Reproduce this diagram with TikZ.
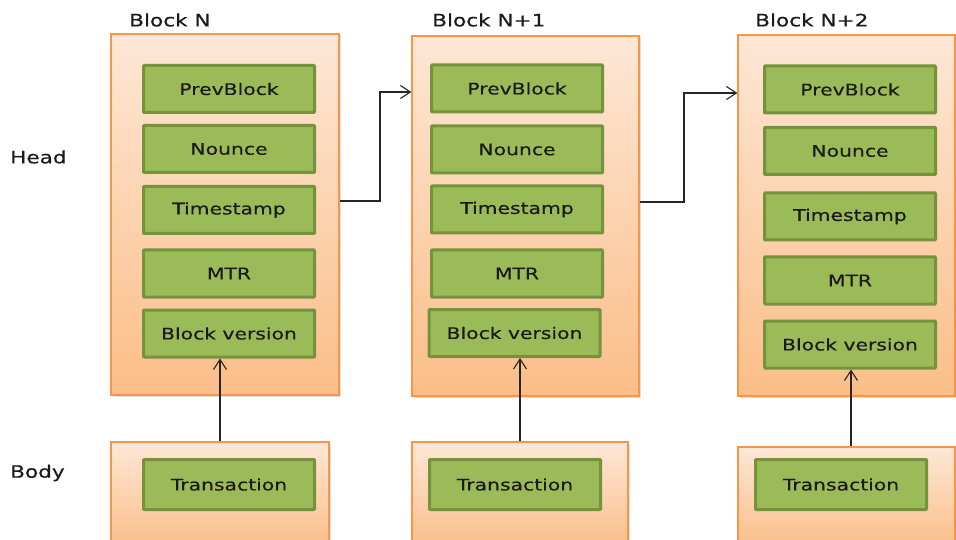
\documentclass[tikz,border=0pt]{standalone}
\usepackage{fontspec}
\setmainfont{DejaVu Sans}[FakeStretch=1.27,FakeBold=0.4]
\usetikzlibrary{arrows.meta,shadows}
\definecolor{orbord}{HTML}{F79646}
\definecolor{ortop}{HTML}{FDE7D6}
\definecolor{orbot}{HTML}{FBBE88}
\definecolor{grfill}{HTML}{9BBB59}
\definecolor{grbord}{HTML}{76923C}
\definecolor{txt}{HTML}{1A1A1A}
\begin{document}
\begin{tikzpicture}[x=1pt,y=-1pt,
  container/.style={draw=orbord,line width=1.2pt,top color=ortop,bottom color=orbot,
    drop shadow={shadow xshift=1.5pt,shadow yshift=-1.5pt,opacity=0.25},inner sep=0pt},
  field/.style={draw=grbord,fill=grfill,line width=3pt,minimum width=171pt,minimum height=47pt,
    inner sep=0pt,text=txt,font=\fontsize{16}{19}\selectfont,rounded corners=0.8pt},
  lbl/.style={anchor=west,text=txt,font=\fontsize{17}{20}\selectfont,inner sep=0pt},
  arr/.style={draw=black!85,line width=1.1pt,-{Straight Barb[length=10pt,width=13pt,line width=1.1pt]}}
]
\useasboundingbox (0,0) rectangle (956,540);
\clip (0,0) rectangle (956,540);
\fill[white] (0,0) rectangle (956,540);

% labels
\node[lbl] (lbN) at (129,20) {Block N};
\node[lbl] (lbN1) at (432,20) {Block N+1};
\node[lbl] (lbN2) at (755,20) {Block N+2};
\node[lbl] (head) at (10,157) {Head};
\node[lbl] (body) at (10,473) {Body};

% Block N
\node[container,minimum width=228pt,minimum height=361pt] (bN) at (225,214.5) {};
\node[field] (pbN) at (229,89) {PrevBlock};
\node[field] (nnN) at (229,149) {Nounce};
\node[field] (tsN) at (229,210) {Timestamp};
\node[field] (mtN) at (229,273.5) {MTR};
\node[field] (bvN) at (229,333.5) {Block version};
\node[container,minimum width=218pt,minimum height=106pt] (yN) at (220,495) {};
\node[field,minimum height=50pt] (trN) at (229,484.5) {Transaction};

% Block N+1
\node[container,minimum width=227pt,minimum height=360pt] (bN1) at (525.5,216) {};
\node[field] (pbN1) at (517,88.5) {PrevBlock};
\node[field] (nnN1) at (517,149.5) {Nounce};
\node[field] (tsN1) at (517,209.5) {Timestamp};
\node[field] (mtN1) at (517,273.5) {MTR};
\node[field] (bvN1) at (514.5,333) {Block version};
\node[container,minimum width=216pt,minimum height=106pt] (yN1) at (520,495) {};
\node[field,minimum height=50pt] (trN1) at (515,484.5) {Transaction};

% Block N+2
\node[container,minimum width=217pt,minimum height=361pt] (bN2) at (846.5,215.5) {};
\node[field] (pbN2) at (850,89.5) {PrevBlock};
\node[field] (nnN2) at (850,151) {Nounce};
\node[field] (tsN2) at (850,216.5) {Timestamp};
\node[field] (mtN2) at (850,280.5) {MTR};
\node[field] (bvN2) at (850,344.5) {Block version};
\node[container,minimum width=217pt,minimum height=101pt] (yN2) at (846.5,497.5) {};
\node[field,minimum height=50pt] (trN2) at (841,484.5) {Transaction};

% chain arrows
\draw[arr] (bN.east |- 0,201) -- (380,201) |- (bN1.west |- 0,92);
\draw[arr] (bN1.east |- 0,202) -- (684,202) |- (bN2.west |- 0,93);

% body to head arrows
\draw[arr] (yN.north) -- (bvN.south -| yN.north);
\draw[arr] (yN1.north) -- (bvN1.south -| yN1.north);
\draw[arr] (yN2.north -| 851,0) -- (bvN2.south -| 851,0);
\end{tikzpicture}
\end{document}
